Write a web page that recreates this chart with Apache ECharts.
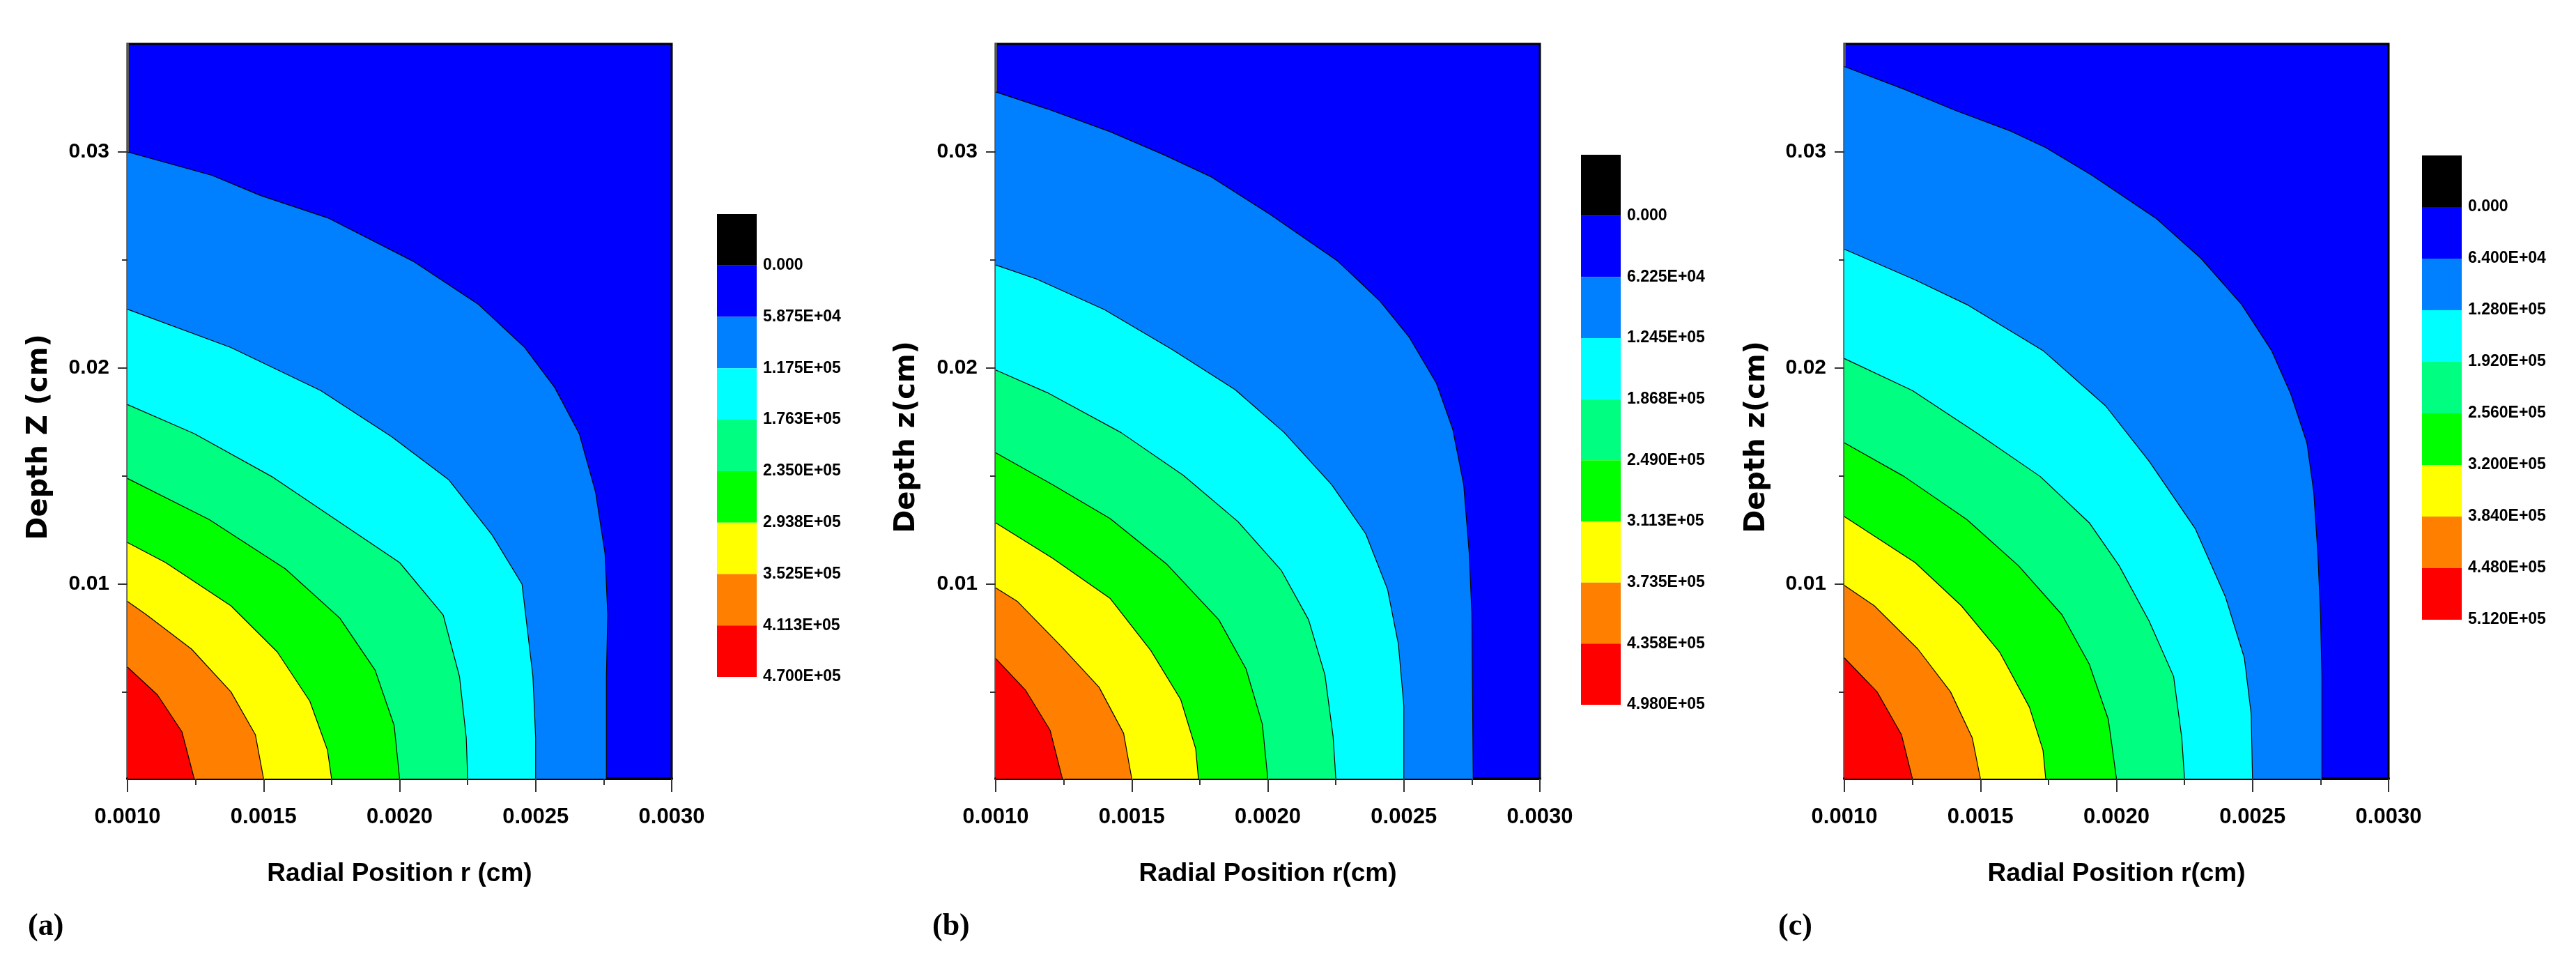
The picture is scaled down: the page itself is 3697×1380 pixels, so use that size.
<!DOCTYPE html>
<html>
<head>
<meta charset="utf-8">
<title>Contour plots</title>
<script src="https://cdn.jsdelivr.net/npm/echarts@6/dist/echarts.min.js"></script>
<style>
  html, body { margin: 0; padding: 0; background: #fff; }
  #chart { width: 3697px; height: 1380px; }
</style>
</head>
<body>
<div id="chart"></div>
<script>
// tick values
const xMajor = [0.001, 0.0015, 0.002, 0.0025, 0.003]
const xMinor = [0.00125, 0.00175, 0.00225, 0.00275]
const yMajor = [0.01, 0.02, 0.03]
const yMinor = [0.005, 0.015, 0.025]

// colour scale (black box on top of every colour bar)
const fillColors = ['#0080ff', '#00ffff', '#00ff80', '#00ff00', '#ffff00', '#ff8000', '#ff0000']
const barColors = ['#000000', '#0000ff'].concat(fillColors)

const levelsA = ['0.000', '5.875E+04', '1.175E+05', '1.763E+05', '2.350E+05', '2.938E+05', '3.525E+05', '4.113E+05', '4.700E+05']
const levelsB = ['0.000', '6.225E+04', '1.245E+05', '1.868E+05', '2.490E+05', '3.113E+05', '3.735E+05', '4.358E+05', '4.980E+05']
const levelsC = ['0.000', '6.400E+04', '1.280E+05', '1.920E+05', '2.560E+05', '3.200E+05', '3.840E+05', '4.480E+05', '5.120E+05']

// contour lines [r, z], outermost first
const contoursA = [
  [[0.001, 0.03], [0.00131, 0.02892], [0.00149, 0.02798], [0.00174, 0.02693], [0.00205, 0.02494], [0.00229, 0.02294], [0.00246, 0.02095], [0.00257, 0.0191], [0.00266, 0.01697], [0.00272, 0.01427], [0.002755, 0.01142], [0.002765, 0.00858], [0.00276, 0.00573], [0.00276, 0.001]],
  [[0.001, 0.02272], [0.00138, 0.02095], [0.00171, 0.01896], [0.00197, 0.01683], [0.00218, 0.01484], [0.00234, 0.01228], [0.00245, 0.01], [0.00249, 0.00573], [0.0025, 0.00289], [0.0025, 0.001]],
  [[0.001, 0.01831], [0.001245, 0.01697], [0.00153, 0.01498], [0.001765, 0.01299], [0.002, 0.011], [0.00216, 0.00858], [0.00222, 0.00573], [0.002245, 0.00289], [0.00225, 0.001]],
  [[0.001, 0.01489], [0.0013, 0.01299], [0.00158, 0.01071], [0.00178, 0.00843], [0.00191, 0.00602], [0.00198, 0.00346], [0.002, 0.001]],
  [[0.001, 0.01193], [0.00114, 0.011], [0.00138, 0.009], [0.00155, 0.00687], [0.00167, 0.00459], [0.001735, 0.00232], [0.00175, 0.001]],
  [[0.001, 0.0092], [0.00107, 0.00858], [0.001235, 0.007], [0.00138, 0.00502], [0.00147, 0.00303], [0.0015, 0.001]],
  [[0.001, 0.00616], [0.00111, 0.00488], [0.0012, 0.00317], [0.001245, 0.001]]
]
const contoursB = [
  [[0.001, 0.03278], [0.00119, 0.03199], [0.00142, 0.03094], [0.00162, 0.02986], [0.00179, 0.02886], [0.00201, 0.0271], [0.002255, 0.02497], [0.00241, 0.02313], [0.00252, 0.02142], [0.00262, 0.01929], [0.00268, 0.01716], [0.00272, 0.0146], [0.00274, 0.01148], [0.00275, 0.00864], [0.002755, 0.001]],
  [[0.001, 0.02477], [0.00115, 0.02412], [0.0014, 0.0227], [0.00165, 0.02085], [0.00188, 0.019], [0.00206, 0.01702], [0.002235, 0.0146], [0.00236, 0.01233], [0.00244, 0.00977], [0.00248, 0.00722], [0.0025, 0.00438], [0.0025, 0.001]],
  [[0.001, 0.01991], [0.00119, 0.01886], [0.00146, 0.01702], [0.00169, 0.01503], [0.00189, 0.0129], [0.00205, 0.01063], [0.00215, 0.00835], [0.00221, 0.0058], [0.00224, 0.00295], [0.00225, 0.001]],
  [[0.001, 0.01608], [0.00121, 0.0146], [0.00142, 0.01304], [0.00163, 0.01091], [0.00182, 0.00835], [0.00192, 0.00608], [0.00198, 0.00352], [0.002, 0.001]],
  [[0.001, 0.01284], [0.00121, 0.01119], [0.00142, 0.00935], [0.00157, 0.00693], [0.00168, 0.00466], [0.001735, 0.00239], [0.001745, 0.001]],
  [[0.001, 0.00983], [0.00108, 0.0092], [0.001245, 0.00707], [0.00138, 0.00523], [0.00147, 0.0031], [0.0015, 0.001]],
  [[0.001, 0.00656], [0.00111, 0.00509], [0.0012, 0.00324], [0.001245, 0.001]]
]
const contoursC = [
  [[0.001, 0.03395], [0.00122, 0.0329], [0.00141, 0.03191], [0.00161, 0.03097], [0.00174, 0.0302], [0.00191, 0.02892], [0.002145, 0.02693], [0.00231, 0.02508], [0.00246, 0.02294], [0.00257, 0.02081], [0.00264, 0.01882], [0.0027, 0.01654], [0.002725, 0.01427], [0.00274, 0.01142], [0.00275, 0.00858], [0.002755, 0.00573], [0.002755, 0.001]],
  [[0.001, 0.0255], [0.00126, 0.02408], [0.00145, 0.02294], [0.00173, 0.02081], [0.00196, 0.01825], [0.00212, 0.01569], [0.00229, 0.01256], [0.0024, 0.00943], [0.00247, 0.00659], [0.002495, 0.004], [0.0025, 0.001]],
  [[0.001, 0.02044], [0.00125, 0.01896], [0.00149, 0.01697], [0.00172, 0.01498], [0.0019, 0.01284], [0.00201, 0.01085], [0.00212, 0.00829], [0.00221, 0.00573], [0.00224, 0.00289], [0.00225, 0.001]],
  [[0.001, 0.01654], [0.00122, 0.01498], [0.00145, 0.01299], [0.00164, 0.01085], [0.0018, 0.00858], [0.0019, 0.0063], [0.00197, 0.00374], [0.002, 0.001]],
  [[0.001, 0.01313], [0.00126, 0.011], [0.00143, 0.009], [0.00157, 0.00687], [0.00168, 0.00431], [0.00173, 0.00232], [0.00174, 0.001]],
  [[0.001, 0.00994], [0.00111, 0.009], [0.00127, 0.007], [0.00139, 0.00502], [0.00147, 0.00289], [0.0015, 0.001]],
  [[0.001, 0.00659], [0.00112, 0.00502], [0.00121, 0.00303], [0.00125, 0.001]]
]

const sans = "'Liberation Sans', Arial, sans-serif"

const panels = [
  {tag: '(a)', tagLeft: 40, yName: 'Depth Z (cm)', yNameX: 57, xName: 'Radial Position r (cm)', contours: contoursA, levels: levelsA,
    left: 183, barLeft: 1029, barTop: 307, barHeight: 664},
  {tag: '(b)', tagLeft: 1338, yName: 'Depth z(cm)', yNameX: 1302, xName: 'Radial Position r(cm)', contours: contoursB, levels: levelsB,
    left: 1429, barLeft: 2269, barTop: 222, barHeight: 789},
  {tag: '(c)', tagLeft: 2552, yName: 'Depth z(cm)', yNameX: 2522, xName: 'Radial Position r(cm)', contours: contoursC, levels: levelsC,
    left: 2647, barLeft: 3476, barTop: 223, barHeight: 666}
]

const grid = [], xAxis = [], yAxis = [], series = [], title = [], graphic = []

panels.forEach((p) => {
  const g = grid.length
  grid.push({left: p.left, top: 63, width: 781, height: 1054, show: true,
    backgroundColor: '#0000ff', borderColor: '#000', borderWidth: 3})
  grid.push({left: p.barLeft, top: p.barTop, width: 57, height: p.barHeight})

  const xi = xAxis.length, yi = yAxis.length
  xAxis.push({
    gridIndex: g, type: 'value', position: 'bottom', min: 0.001, max: 0.003,
    axisLine: {onZero: false, lineStyle: {color: '#000', width: 4}},
    axisTick: {customValues: xMajor, length: 19, lineStyle: {color: '#333', width: 2}},
    axisLabel: {customValues: xMajor, formatter: (v) => v.toFixed(4), margin: 40,
      fontSize: 31, fontWeight: 'bold', fontFamily: sans, color: '#000'},
    splitLine: {show: false},
    name: p.xName, nameLocation: 'middle', nameGap: 118,
    nameTextStyle: {fontSize: 37, fontWeight: 'bold', fontFamily: sans, color: '#000'}
  })
  xAxis.push({
    gridIndex: g, type: 'value', position: 'bottom', min: 0.001, max: 0.003,
    axisLine: {show: false},
    axisTick: {customValues: xMinor, length: 9, lineStyle: {color: '#333', width: 2}},
    axisLabel: {show: false}, splitLine: {show: false}
  })
  xAxis.push({gridIndex: g + 1, type: 'value', min: 0, max: 1, show: false})

  yAxis.push({
    gridIndex: g, type: 'value', position: 'left', min: 0.001, max: 0.035,
    axisLine: {onZero: false, lineStyle: {color: '#555', width: 3}},
    axisTick: {customValues: yMajor, length: 14, lineStyle: {color: '#333', width: 2}},
    axisLabel: {customValues: yMajor, formatter: (v) => v.toFixed(2), margin: 26,
      fontSize: 30, fontWeight: 'bold', fontFamily: sans, color: '#000'},
    splitLine: {show: false}
  })
  yAxis.push({
    gridIndex: g, type: 'value', position: 'left', min: 0.001, max: 0.035,
    axisLine: {show: false},
    axisTick: {customValues: yMinor, length: 8, lineStyle: {color: '#333', width: 2}},
    axisLabel: {show: false}, splitLine: {show: false}
  })
  yAxis.push({gridIndex: g + 1, type: 'category', inverse: true, data: p.levels, show: false})

  p.contours.forEach((c, k) => {
    series.push({
      type: 'line', xAxisIndex: xi, yAxisIndex: yi, data: c,
      symbol: 'none', smooth: false, silent: true,
      lineStyle: {color: '#000', width: 1.2},
      areaStyle: {color: fillColors[k], opacity: 1, origin: 'start'}
    })
  })

  const cellH = p.barHeight / barColors.length
  series.push({
    type: 'bar', xAxisIndex: xi + 2, yAxisIndex: yi + 2, barCategoryGap: '0%', silent: true,
    data: barColors.map((c) => ({value: 1, itemStyle: {color: c}})),
    label: {show: true, position: 'right', distance: 9, offset: [0, cellH / 2],
      formatter: (d) => p.levels[d.dataIndex],
      fontSize: 23, fontWeight: 'bold', fontFamily: sans, color: '#000'}
  })

  // rotated y title
  graphic.push({type: 'text', x: p.yNameX, y: 627, rotation: Math.PI / 2,
    style: {text: p.yName, align: 'center', verticalAlign: 'middle', fill: '#000',
      font: "bold 40px 'DejaVu Sans', sans-serif"}})

  title.push({text: p.tag, left: p.tagLeft, top: 1308, padding: 0,
    textStyle: {fontSize: 44, fontWeight: 'bold', fontFamily: "'Liberation Serif', serif", color: '#000'}})
})

const chart = echarts.init(document.getElementById('chart'))
chart.setOption({animation: false, title, grid, xAxis, yAxis, series, graphic})
</script>
</body>
</html>
